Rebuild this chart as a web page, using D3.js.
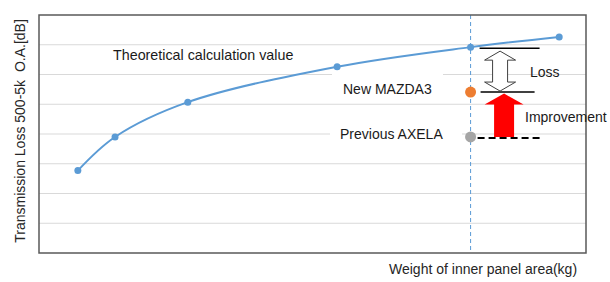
<!DOCTYPE html>
<html>
<head>
<meta charset="utf-8">
<script src="https://cdn.jsdelivr.net/npm/d3@7"></script>
<style>
  body { margin: 0; background: #fff; }
  text { font-family: "Liberation Sans", Arial, sans-serif; white-space: pre; }
</style>
</head>
<body>
<div id="chart"></div>
<script>
// theoretical curve (x = weight, arbitrary units; y = TL grid units)
const weights = [7.1, 13.9, 27.2, 54.5, 78.9, 95.1];
const tlValues = [2.77, 3.9, 5.07, 6.26, 6.92, 7.26];

const carNames = ["New MAZDA3", "Previous AXELA"];
const carWeights = [78.9, 78.9];
const carTL = [5.41, 3.9];
const carColors = ["#ed7d31", "#a5a5a5"];

const gridValues = [1, 2, 3, 4, 5, 6, 7];

const width = 610;
const height = 282;
const plotLeft = 39, plotRight = 586, plotTop = 15, plotBottom = 253;

const svg = d3.select('#chart')
  .append('svg')
  .attr('width', width)
  .attr('height', height)

const xScale = d3.scaleLinear().domain([0, 100]).range([plotLeft, plotRight]);
const yScale = d3.scaleLinear().domain([0, 8]).range([plotBottom, plotTop]);

// grid
svg.append('g')
  .selectAll('line')
  .data(gridValues)
  .join('line')
  .attr('x1', plotLeft).attr('x2', plotRight)
  .attr('y1', d => yScale(d)).attr('y2', d => yScale(d))
  .attr('stroke', '#d9d9d9')
  .attr('stroke-width', 1.2)

// vertical dashed line through the target weight
svg.append('line')
  .attr('x1', xScale(weights[4])).attr('x2', xScale(weights[4]))
  .attr('y1', plotTop).attr('y2', plotBottom)
  .attr('stroke', '#5b9bd5')
  .attr('stroke-width', 1)
  .attr('stroke-dasharray', '4,3')

function label(txt, x, y, size) {
  return svg.append('text')
    .attr('x', x).attr('y', y)
    .attr('font-size', size)
    .attr('fill', '#1a1a1a')
    .text(txt);
}
// white boxes behind the car labels hide the grid
function box(x, y, w, h) {
  svg.append('rect').attr('x', x).attr('y', y).attr('width', w).attr('height', h).attr('fill', '#fff');
}
box(332, 70, 111, 30);
box(330, 110, 132, 34);

// curve
const line = d3.line()
  .x((d, i) => xScale(weights[i]))
  .y(d => yScale(d))
  .curve(d3.curveCatmullRom.alpha(0.5));

svg.append('path')
  .datum(tlValues)
  .attr('d', line)
  .attr('fill', 'none')
  .attr('stroke', '#5b9bd5')
  .attr('stroke-width', 2)

svg.append('g')
  .selectAll('circle')
  .data(tlValues)
  .join('circle')
  .attr('cx', (d, i) => xScale(weights[i]))
  .attr('cy', d => yScale(d))
  .attr('r', 3.5)
  .attr('fill', '#5b9bd5')

// reference lines for loss / improvement
const ax = xScale(weights[4]);
svg.append('line')
  .attr('x1', ax + 9).attr('x2', ax + 69)
  .attr('y1', yScale(tlValues[4]) + 1).attr('y2', yScale(tlValues[4]) + 1)
  .attr('stroke', '#000').attr('stroke-width', 1.5)
svg.append('line')
  .attr('x1', ax + 10).attr('x2', ax + 64)
  .attr('y1', yScale(carTL[0])).attr('y2', yScale(carTL[0]))
  .attr('stroke', '#000').attr('stroke-width', 1.5)
svg.append('line')
  .attr('x1', ax + 7).attr('x2', ax + 69)
  .attr('y1', yScale(carTL[1]) + 1).attr('y2', yScale(carTL[1]) + 1)
  .attr('stroke', '#000').attr('stroke-width', 2)
  .attr('stroke-dasharray', '7,4')

// hollow double arrow (Loss)
{
  const cx = ax + 29.5, y1 = yScale(tlValues[4]) + 4, y2 = yScale(carTL[0]) - 1;
  const hw = 15.5, sw = 7.5, hh = 9;
  const p = [
    [cx, y1], [cx + hw, y1 + hh], [cx + sw, y1 + hh], [cx + sw, y2 - hh], [cx + hw, y2 - hh],
    [cx, y2], [cx - hw, y2 - hh], [cx - sw, y2 - hh], [cx - sw, y1 + hh], [cx - hw, y1 + hh]
  ];
  svg.append('path')
    .attr('d', 'M' + p.map(d => d.join(',')).join('L') + 'Z')
    .attr('fill', '#fff')
    .attr('stroke', '#404040')
    .attr('stroke-width', 1)
}

// red arrow (Improvement)
{
  const cx = ax + 33.5, y1 = yScale(carTL[0]) + 1.5, y2 = yScale(carTL[1]);
  const hw = 19.5, sw = 10, hh = 11;
  const p = [
    [cx, y1], [cx + hw, y1 + hh], [cx + sw, y1 + hh], [cx + sw, y2], [cx - sw, y2],
    [cx - sw, y1 + hh], [cx - hw, y1 + hh]
  ];
  svg.append('path')
    .attr('d', 'M' + p.map(d => d.join(',')).join('L') + 'Z')
    .attr('fill', '#ff0000')
}

// car points
svg.append('g')
  .selectAll('circle')
  .data(carTL)
  .join('circle')
  .attr('cx', (d, i) => xScale(carWeights[i]))
  .attr('cy', d => yScale(d))
  .attr('r', 5.5)
  .attr('fill', (d, i) => carColors[i])

// frame
svg.append('rect')
  .attr('x', plotLeft).attr('y', plotTop)
  .attr('width', plotRight - plotLeft).attr('height', plotBottom - plotTop)
  .attr('fill', 'none')
  .attr('stroke', '#595959')
  .attr('stroke-width', 1.5)

// texts
label('Theoretical calculation value', 113, 60, 14.3);
label(carNames[0], 343, 94, 14);
label(carNames[1], 340, 139, 14);
label('Loss', 530, 77, 14);
label('Improvement', 525, 122, 14);

// axis titles
svg.append('text')
  .attr('transform', `translate(25, 131) rotate(-90)`)
  .attr('text-anchor', 'middle')
  .attr('font-size', 14)
  .attr('fill', '#262626')
  .text('Transmission Loss 500-5k  O.A.[dB]')

svg.append('text')
  .attr('x', 389).attr('y', 274)
  .attr('font-size', 14)
  .attr('fill', '#262626')
  .text('Weight of inner panel area(kg)')
</script>
</body>
</html>
